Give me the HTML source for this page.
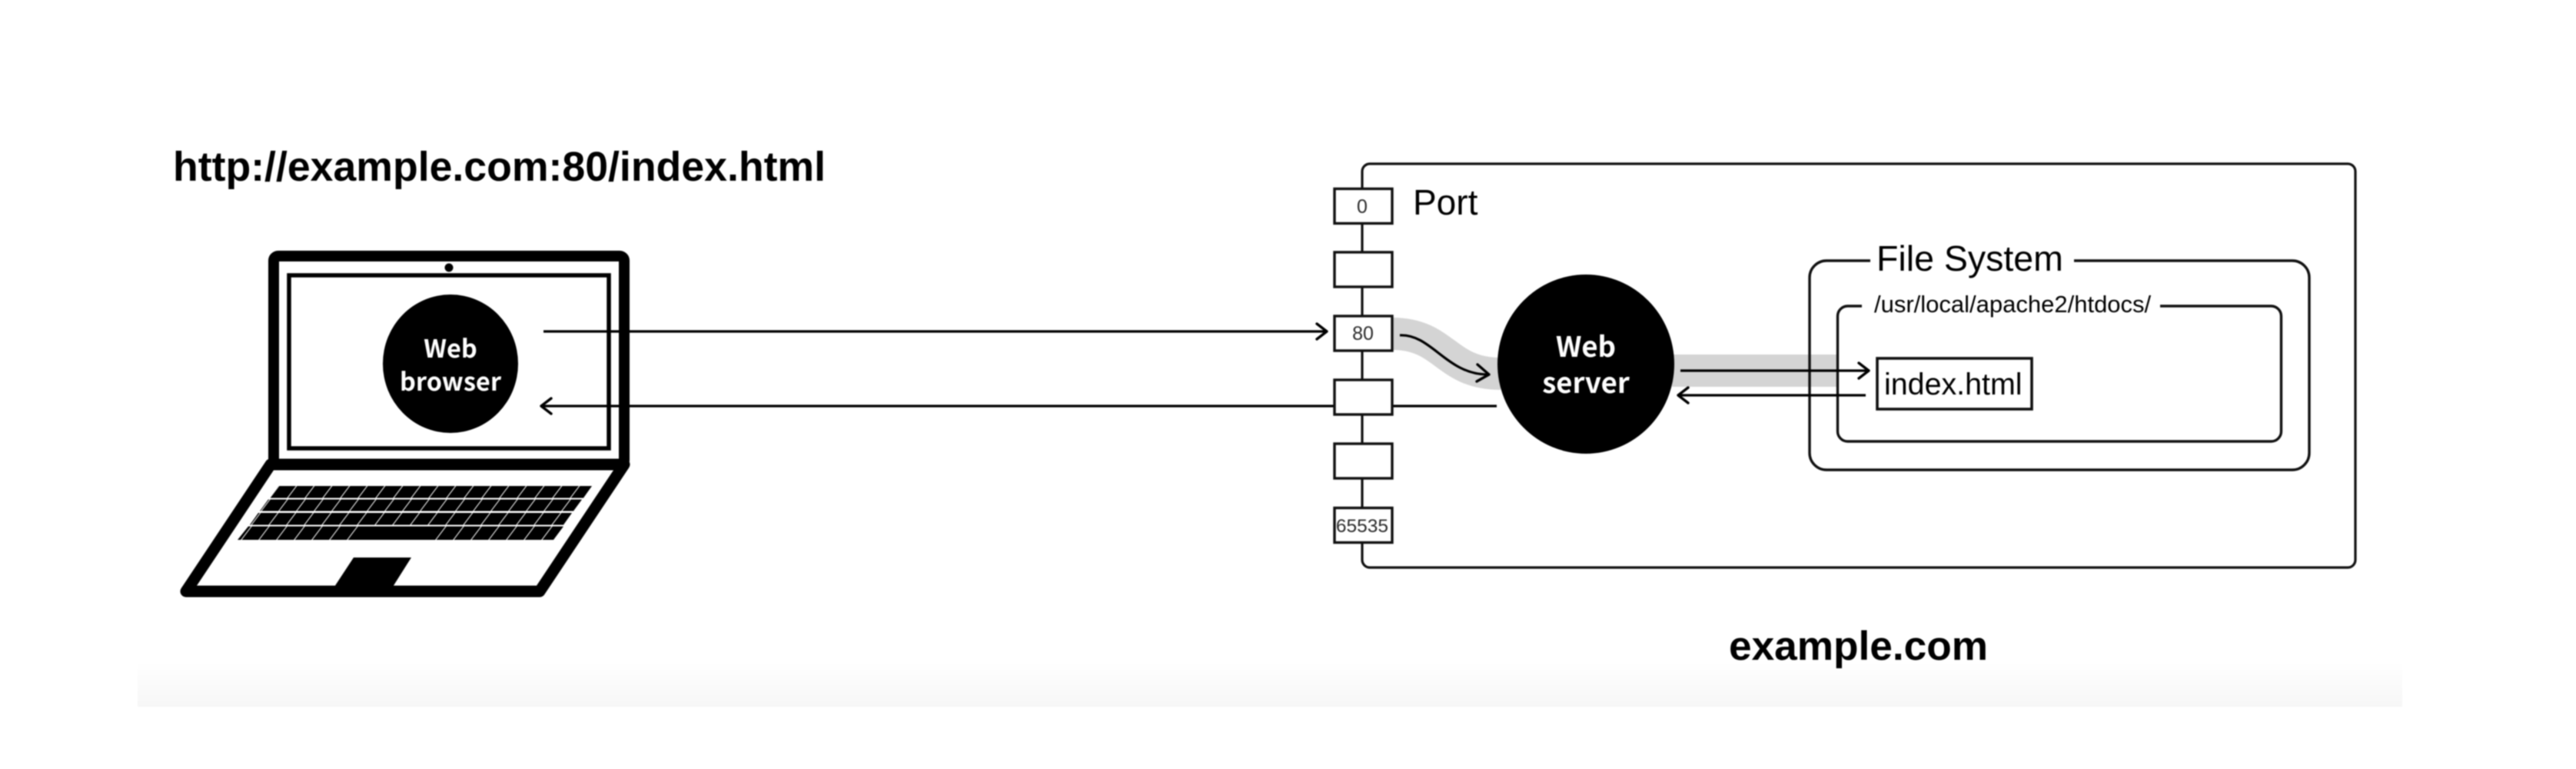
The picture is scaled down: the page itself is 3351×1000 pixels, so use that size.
<!DOCTYPE html>
<html>
<head>
<meta charset="utf-8">
<style>
html,body{margin:0;padding:0;background:#fff;width:3351px;height:1000px;overflow:hidden}
svg{display:block;filter:blur(.8px)}
text{font-family:"Liberation Sans",sans-serif;fill:#000}
.b{font-weight:700}
.w{font-family:"Noto Sans CJK JP","Liberation Sans",sans-serif;font-weight:700;fill:#fff;text-anchor:middle}
.p{fill:#2a2a2a;text-anchor:middle}
.l{fill:none;stroke:#000;stroke-width:3.2}
.h{fill:none;stroke:#000;stroke-width:3.4;stroke-linecap:round;stroke-linejoin:round}
.box{fill:#fff;stroke:#111;stroke-width:3.4}
</style>
</head>
<body>
<svg width="3351" height="1000" viewBox="0 0 3351 1000" xmlns="http://www.w3.org/2000/svg">
<defs>
<linearGradient id="g" x1="0" y1="0" x2="0" y2="1"><stop offset="0" stop-color="#fff"/><stop offset="1" stop-color="#f6f6f6"/></linearGradient>
<pattern id="k1" width="23" height="200" patternUnits="userSpaceOnUse" patternTransform="translate(362 632) skewX(-37)"><rect width="23" height="200" fill="#000"/><rect x="0" width="1.3" height="200" fill="#fff"/></pattern>
<pattern id="k2" width="23" height="200" patternUnits="userSpaceOnUse" patternTransform="translate(350 650) skewX(-37)"><rect width="23" height="200" fill="#000"/><rect x="0" width="1.3" height="200" fill="#fff"/></pattern>
<pattern id="k3" width="23" height="200" patternUnits="userSpaceOnUse" patternTransform="translate(338 667) skewX(-37)"><rect width="23" height="200" fill="#000"/><rect x="0" width="1.3" height="200" fill="#fff"/></pattern>
<pattern id="k4" width="23" height="200" patternUnits="userSpaceOnUse" patternTransform="translate(326 685) skewX(-37)"><rect width="23" height="200" fill="#000"/><rect x="0" width="1.3" height="200" fill="#fff"/></pattern>
</defs>
<rect width="3351" height="1000" fill="#fff"/>
<rect x="179" y="860" width="2946" height="59" fill="url(#g)"/>

<!-- URL -->
<text class="b" x="225" y="235" font-size="53.6" textLength="849" lengthAdjust="spacingAndGlyphs">http://example.com:80/index.html</text>
<text class="b" x="2249" y="858" font-size="53" textLength="337" lengthAdjust="spacingAndGlyphs">example.com</text>

<!-- Laptop -->
<rect x="356" y="333" width="456" height="271" rx="6" fill="#fff" stroke="#000" stroke-width="14"/>
<circle cx="584" cy="348" r="5.5" fill="#000"/>
<rect x="376" y="358" width="416" height="225" fill="#fff" stroke="#000" stroke-width="5.5"/>
<ellipse cx="586" cy="473" rx="88" ry="90" fill="#000"/>
<text class="w" x="586" y="465" font-size="32.500">Web</text>
<text class="w" x="586" y="508" font-size="32.500">browser</text>
<polygon points="352,604 812,604 702,769 242,769" fill="#fff" stroke="#000" stroke-width="15" stroke-linejoin="round"/>
<polygon points="362,632 770,632 759,647.500 351,647.500" fill="url(#k1)"/>
<polygon points="349,649.500 757,649.500 746,664.500 338,664.500" fill="url(#k2)"/>
<polygon points="336,667 744,667 733,682.500 325,682.500" fill="url(#k3)"/>
<polygon points="323,684.500 733,684.500 720,702 309,702" fill="url(#k4)"/>
<polygon points="484,684.500 573,684.500 560,702 471,702" fill="#000"/>
<polygon points="460,725 535,725 511,763 435,763" fill="#000"/>

<!-- Port box -->
<rect x="1772" y="213" width="1292" height="525" rx="10" fill="#fff" stroke="#111" stroke-width="3.2"/>
<text x="1838" y="279" font-size="46">Port</text>

<!-- gray bands -->
<path d="M1811,434 C1880,434 1880,486 1952,486" fill="none" stroke="#d4d4d4" stroke-width="42"/>
<rect x="2175" y="461" width="214" height="42" fill="#d4d4d4"/>

<!-- File system -->
<rect x="2354" y="339" width="650" height="272" rx="22" fill="none" stroke="#111" stroke-width="3.4"/>
<rect x="2433" y="330" width="265" height="20" fill="#fff"/>
<text x="2441" y="352" font-size="46.500">File System</text>
<rect x="2390.500" y="398" width="577" height="176" rx="13" fill="none" stroke="#111" stroke-width="3.4"/>
<rect x="2422" y="390" width="388" height="16" fill="#fff"/>
<text x="2438" y="406" font-size="31">/usr/local/apache2/htdocs/</text>
<rect x="2442" y="466" width="201" height="66" fill="#fff" stroke="#111" stroke-width="3.6"/>
<text x="2451" y="513" font-size="39.400">index.html</text>

<!-- arrows: browser / port -->
<line class="l" x1="707" y1="431" x2="1724" y2="431"/>
<polyline class="h" points="1713,421 1726,431 1713,441"/>
<line class="l" x1="705" y1="528" x2="1947" y2="528"/>
<polyline class="h" points="717,518 704,528 717,538"/>

<!-- port boxes -->
<rect class="box" x="1736" y="245.500" width="75" height="45"/>
<rect class="box" x="1736" y="328" width="75" height="45"/>
<rect class="box" x="1736" y="411" width="75" height="45"/>
<rect class="box" x="1736" y="494" width="75" height="45"/>
<rect class="box" x="1736" y="577" width="75" height="45"/>
<rect class="box" x="1736" y="660.500" width="75" height="45"/>
<text class="p" x="1772" y="277" font-size="25">0</text>
<text class="p" x="1773" y="442" font-size="25">80</text>
<text class="p" x="1772" y="692" font-size="24.500">65535</text>

<!-- Web server -->
<ellipse cx="2063" cy="473.500" rx="115" ry="116.500" fill="#000"/>
<text class="w" x="2063" y="464" font-size="36.500">Web</text>
<text class="w" x="2063" y="511" font-size="36.500">server</text>

<!-- curved arrow -->
<path class="l" d="M1821,436 C1862,434 1882,487 1935,487"/>
<polyline class="h" points="1922,474 1937,487 1921,496"/>

<!-- file arrows -->
<line class="l" x1="2186" y1="482" x2="2429" y2="482"/>
<polyline class="h" points="2418,472 2431,482 2418,492"/>
<line class="l" x1="2185" y1="514" x2="2427" y2="514"/>
<polyline class="h" points="2196,504 2183,514 2196,524"/>
</svg>
</body>
</html>
